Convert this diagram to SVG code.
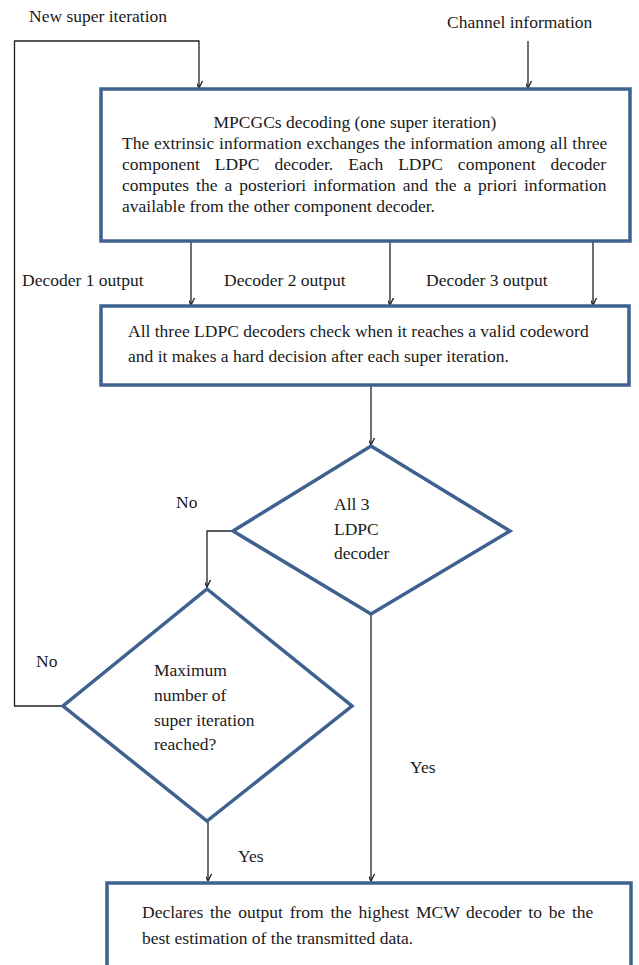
<svg xmlns="http://www.w3.org/2000/svg" width="639" height="965" viewBox="0 0 639 965">
<style>
text{font-family:"Liberation Serif","Times New Roman",serif;font-size:17.5px;fill:#1a1a1a}
.box{fill:#fff;stroke:#3f6190;stroke-width:3.5}
.con{fill:none;stroke:#222;stroke-width:1.3}
</style>
<defs>
<marker id="ah" markerUnits="userSpaceOnUse" markerWidth="14" markerHeight="14" viewBox="-7 -12 14 14" refX="0" refY="0" orient="auto-start-reverse">
<path d="M-5,-10 L0,0 L5,-10" transform="rotate(-90)" fill="none" stroke="#222" stroke-width="1.3"/>
</marker>
</defs>
<rect width="639" height="965" fill="#fff"/>
<g id="connectors">
<path class="con" d="M63,706 H14.5 V41 H199 V88" marker-end="url(#ah)"/>
<path class="con" d="M528,41 V88" marker-end="url(#ah)"/>
<path class="con" d="M191,242 V305" marker-end="url(#ah)"/>
<path class="con" d="M390,242 V305" marker-end="url(#ah)"/>
<path class="con" d="M593,242 V305" marker-end="url(#ah)"/>
<path class="con" d="M371,386 V445" marker-end="url(#ah)"/>
<path class="con" d="M233,531 H207 V587" marker-end="url(#ah)"/>
<path class="con" d="M371,615 V881" marker-end="url(#ah)"/>
<path class="con" d="M208,822 V881" marker-end="url(#ah)"/>
</g>
<g id="labels">
<text x="29" y="22">New super iteration</text>
<text x="447" y="28">Channel information</text>
<text x="22" y="286">Decoder 1 output</text>
<text x="224" y="286">Decoder 2 output</text>
<text x="426" y="286">Decoder 3 output</text>
<text x="176" y="508">No</text>
<text x="36" y="667">No</text>
<text x="238" y="862">Yes</text>
<text x="410" y="773">Yes</text>
</g>
<g id="decoding">
<rect class="box" x="101" y="89" width="529" height="152"/>
<text x="355" y="128" text-anchor="middle">MPCGCs decoding (one super iteration)</text>
<text x="122" y="149" word-spacing="0.4">The extrinsic information exchanges the information among all three</text>
<text x="122" y="170" word-spacing="10.6">component LDPC decoder. Each LDPC component decoder</text>
<text x="122" y="191" word-spacing="2.6">computes the a posteriori information and the a priori information</text>
<text x="122" y="212">available from the other component decoder.</text>
</g>
<g id="check">
<rect class="box" x="101" y="306" width="528" height="79"/>
<text x="128" y="337">All three LDPC decoders check when it reaches a valid codeword</text>
<text x="128" y="362">and it makes a hard decision after each super iteration.</text>
</g>
<g id="decision1">
<polygon class="box" points="371,446 510,531 371,614 233,531"/>
<text x="334" y="510">All 3</text>
<text x="334" y="535">LDPC</text>
<text x="334" y="559">decoder</text>
</g>
<g id="decision2">
<polygon class="box" points="207,589 352,706 207,821 63,706"/>
<text x="154" y="676">Maximum</text>
<text x="154" y="701">number of</text>
<text x="154" y="726">super iteration</text>
<text x="154" y="750">reached?</text>
</g>
<g id="output">
<rect class="box" x="107" y="883" width="524" height="100"/>
<text x="142" y="918" word-spacing="2.4">Declares the output from the highest MCW decoder to be the</text>
<text x="142" y="944">best estimation of the transmitted data.</text>
</g>
</svg>
